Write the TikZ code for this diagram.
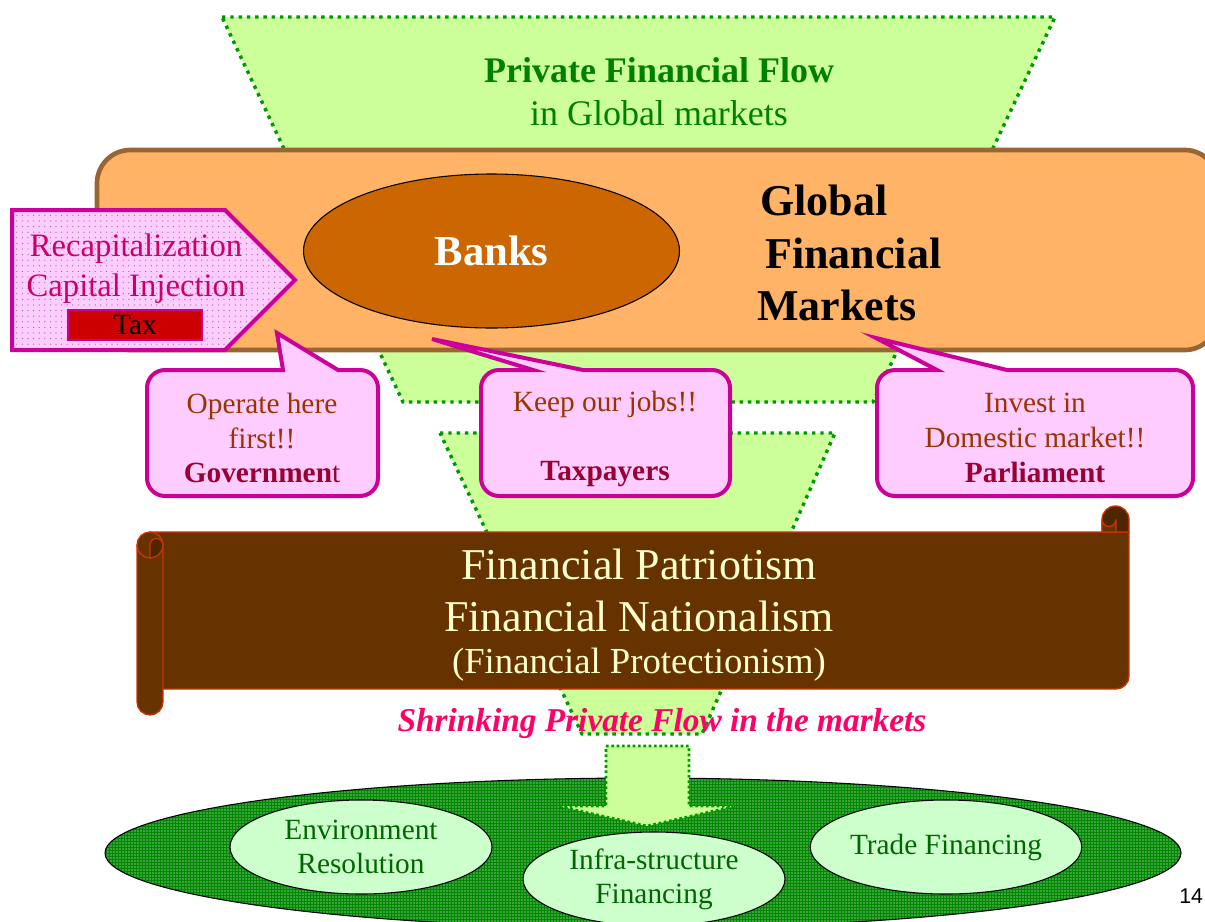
\documentclass[tikz,border=0pt]{standalone}
\usepackage{fontspec}
\setmainfont{Liberation Serif}
\newfontfamily\pagenofont{Liberation Sans}
\usetikzlibrary{shapes.geometric,patterns.meta}

\definecolor{funnelfill}{HTML}{CCFF99}
\definecolor{funneledge}{HTML}{009900}
\definecolor{boardfill}{HTML}{FFB366}
\definecolor{boardedge}{HTML}{996633}
\definecolor{bankfill}{HTML}{CC6600}
\definecolor{bubblefill}{HTML}{FFCCFF}
\definecolor{bubbleedge}{HTML}{CC0099}
\definecolor{bubbletext}{HTML}{993300}
\definecolor{bubblewho}{HTML}{990033}
\definecolor{recaptext}{HTML}{CC0066}
\definecolor{taxfill}{HTML}{CC0000}
\definecolor{scrollfill}{HTML}{663300}
\definecolor{scrolldark}{HTML}{4D2600}
\definecolor{scrolledge}{HTML}{CC3300}
\definecolor{scrolltext}{HTML}{FFFFCC}
\definecolor{shrinktext}{HTML}{FF0066}
\definecolor{fieldfill}{HTML}{008800}
\definecolor{areafill}{HTML}{CCFFCC}
\definecolor{areatext}{HTML}{006600}
\definecolor{flowtext}{HTML}{008000}

% speech bubble: left, right, top, bottom, tail base left, tail base right, tail tip
\newcommand{\speechbubble}[7]{%
  \draw[bubble] (#1,#3+18) arc (180:270:18) -- (#5,#3) -- (#7) -- (#6,#3)
    -- (#2-18,#3) arc (270:360:18) -- (#2,#4-18) arc (0:90:18)
    -- (#1+18,#4) arc (90:180:18) -- cycle;}

\begin{document}
\begin{tikzpicture}[x=0.75pt,y=-0.75pt,
  funnel/.style={fill=funnelfill, draw=funneledge, line width=2.6pt,
    dash pattern=on 2.6pt off 3.6pt},
  flowarrow/.style={fill=funnelfill, draw=funneledge, line width=2pt,
    dash pattern=on 2pt off 2pt},
  board/.style={fill=boardfill, draw=boardedge, line width=3.5pt, rounded corners=25},
  bubble/.style={fill=bubblefill, draw=bubbleedge, line width=3pt, line join=miter},
  bubbletxt/.style={inner sep=0pt, align=center, text=bubbletext,
    font=\fontsize{22}{26}\selectfont},
  recapshape/.style={draw=bubbleedge, line width=3pt,
    preaction={fill=bubblefill},
    pattern={Dots[distance=4.2pt,radius=0.45pt]}, pattern color=black!55},
  recaptxt/.style={inner sep=0pt, align=center, text=recaptext,
    font=\fontsize{24.5}{30}\selectfont},
  taxbox/.style={rectangle, fill=taxfill, draw=bubbleedge, line width=1pt,
    minimum width=134*0.75pt, minimum height=30*0.75pt, inner sep=0pt,
    font=\fontsize{22}{24}\selectfont},
  bankshape/.style={ellipse, fill=bankfill, draw=black, line width=0.8pt,
    minimum width=376*0.75pt, minimum height=154*0.75pt, inner sep=0pt,
    text=white, font=\fontsize{32}{36}\selectfont\bfseries},
  gfm/.style={anchor=west, inner sep=0pt, font=\fontsize{33}{38}\selectfont\bfseries},
  scroll/.style={fill=scrollfill, draw=scrolledge, line width=1pt},
  scrolltxt/.style={inner sep=0pt, text=scrolltext},
  field/.style={ellipse, draw=black, line width=0.8pt,
    preaction={fill=fieldfill},
    pattern={Dots[distance=2.25pt,radius=0.5pt]}, pattern color=white,
    minimum width=1076*0.75pt, minimum height=150*0.75pt, inner sep=0pt},
  area/.style={ellipse, fill=areafill, draw=black, line width=0.8pt,
    minimum width=262*0.75pt, minimum height=94*0.75pt, inner sep=0pt,
    align=center, text=areatext, font=\fontsize{22}{25.5}\selectfont}
]
\useasboundingbox (0,0) rectangle (1205,921);

% upper funnel of private flow
\draw[funnel] (222,17) -- (1055,17) -- (873,402) -- (403,402) -- cycle;
\node[inner sep=0pt, align=center, text=flowtext,
  font=\fontsize{27}{32}\selectfont] (flow) at (659,92)
  {\textbf{Private Financial Flow}\\in Global markets};

% global financial markets board
\draw[board] (97,150) rectangle (1218,350);
\node[bankshape] (banks) at (491.5,251) {Banks};
\node[gfm] (gfm1) at (760,200) {Global};
\node[gfm] (gfm2) at (765,253) {Financial};
\node[gfm] (gfm3) at (757,305) {Markets};

% recapitalization arrow
\draw[recapshape] (12,210) -- (225,210) -- (295,280) -- (225,350) -- (12,350) -- cycle;
\node[recaptxt] (recap) at (136,269) {Recapitalization\\Capital Injection};
\node[taxbox] (tax) at (135,325) {Tax};

% lower funnel
\draw[funnel] (440,433) -- (835,433) -- (702,734) -- (582,734) -- cycle;

% speech bubbles
\speechbubble{147}{378}{370}{496}{283}{338}{277,333}
\node[bubbletxt] (gov) at (262,438)
  {Operate here\\first!!\\{\color{bubblewho}\textbf{Governmen}t}};

\speechbubble{481}{730}{370}{496}{533}{583}{432,339}
\node[bubbletxt] (taxp) at (605,439)
  {Keep our jobs!!\\\mbox{}\\{\color{bubblewho}\textbf{Taxpayers}}};

\speechbubble{877}{1193}{370}{496}{937}{1007}{876,338}
\node[bubbletxt] (parl) at (1035,438)
  {Invest in\\Domestic market!!\\{\color{bubblewho}\textbf{Parliament}}};

% scroll banner
\draw[scroll] (150,532) -- (1129,532) -- (1129,676) arc (0:90:13) -- (150,689) -- cycle;
\draw[scroll, fill=scrolldark] (1102,532) -- (1102,519.5) arc (180:360:13.5) -- (1129,532) -- cycle;
\draw[scroll] (1102,532) -- (1102,519.5) arc (180:0:7) -- (1116,532) -- cycle;
\draw[scroll] (137,545) arc (180:360:13) -- (163,702) arc (0:180:13) -- cycle;
\draw[scroll, fill=scrolldark] (150,558) -- (150,545) arc (180:360:6.5) arc (0:90:13) -- cycle;
\draw[scrolledge, line width=1pt] (137,545) arc (180:90:13);
\node[scrolltxt, font=\fontsize{33}{38}\selectfont] (patr) at (639,564) {Financial Patriotism};
\node[scrolltxt, font=\fontsize{33}{38}\selectfont] (natl) at (639,616) {Financial Nationalism};
\node[scrolltxt, font=\fontsize{27.5}{32}\selectfont] (prot) at (639,665) {(Financial Protectionism)};

\node[inner sep=0pt, text=shrinktext, font=\fontsize{25}{30}\selectfont\bfseries\itshape]
  (shrink) at (662,723) {Shrinking Private Flow in the markets};

% target areas
\node[field] (field) at (643,853) {};
\draw[flowarrow] (606,746) -- (689,746) -- (689,806) -- (736,806) -- (647,826)
  -- (558,806) -- (606,806) -- cycle;
\node[area] (env) at (361,847) {Environment\\Resolution};
\node[area] (infra) at (654,879) {Infra-structure\\Financing};
\node[area] (trade) at (946,847) {Trade Financing};

% page number
\node[anchor=west, inner sep=0pt, font=\pagenofont\fontsize{16}{19}\selectfont]
  (pageno) at (1179,896) {14};
\end{tikzpicture}
\end{document}
